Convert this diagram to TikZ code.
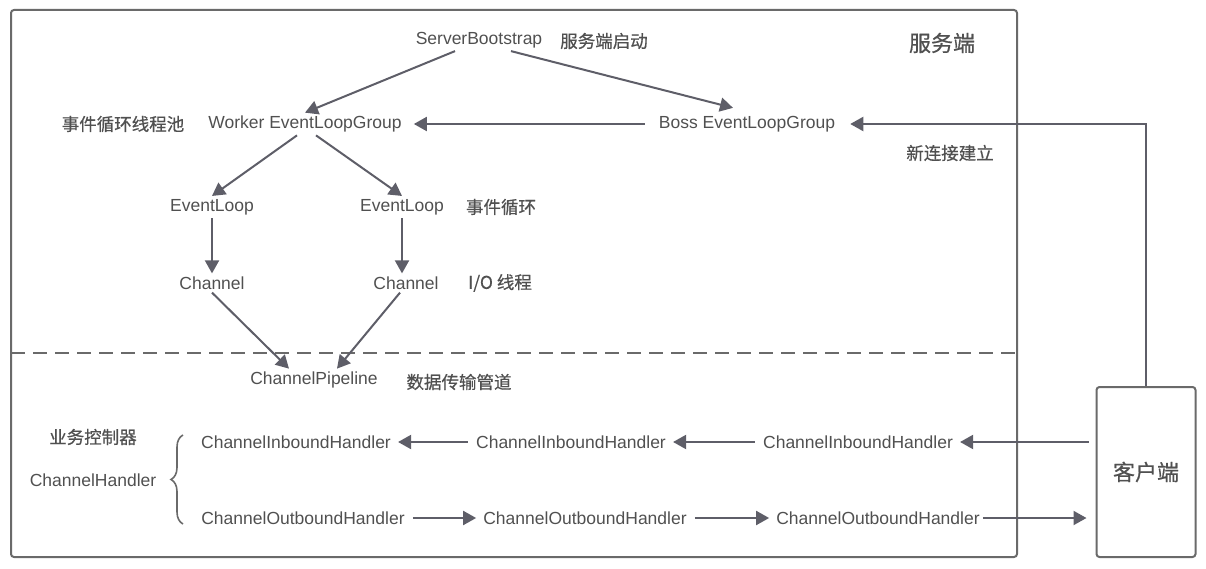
\documentclass[tikz,border=0pt]{standalone}
\usepackage{fontspec}
\setmainfont{Liberation Sans}
\newfontfamily\cjk{Noto Sans CJK SC}[FakeBold=0.6]
\usetikzlibrary{arrows.meta,decorations.pathreplacing}
\definecolor{inkText}{HTML}{505050}
\definecolor{inkLine}{HTML}{5E5E68}
\definecolor{frameLine}{HTML}{6A6A6A}
\tikzset{
  lbl/.style={inner sep=3pt, text=inkText, font=\fontsize{17.5}{20}\selectfont},
  cnlbl/.style={lbl, font=\cjk\fontsize{17.5}{20}\selectfont},
  titlelbl/.style={lbl, font=\cjk\fontsize{22}{26}\selectfont},
  arr/.style={-{Triangle[length=13pt,width=14pt]}, line width=2pt, draw=inkLine},
  handarr/.style={arr, shorten <=5pt, shorten >=4pt},
  frame/.style={draw=frameLine, line width=2pt, rounded corners=3pt},
  clientbox/.style={frame, minimum width=99pt, minimum height=170pt, inner sep=0pt,
    text=inkText, font=\cjk\fontsize{22}{26}\selectfont}
}
\begin{document}
\begin{tikzpicture}[x=1pt, y=-1pt]
  \useasboundingbox (0,0) rectangle (1206,569);
  % server side frame and pipeline divider
  \draw[frame] (11,10) rectangle (1017,557);
  \draw[frameLine, line width=2pt, dash pattern=on 14pt off 8pt] (11,353) -- (1015,353);
  \node[titlelbl] (server) at (942,43) {服务端};
  % bootstrap and groups
  \node[lbl] (sb) at (479,40) {ServerBootstrap};
  \node[cnlbl] (sbNote) at (604,41) {服务端启动};
  \node[lbl] (worker) at (305,124) {Worker EventLoopGroup};
  \node[cnlbl] (workerNote) at (123,124) {事件循环线程池};
  \node[lbl] (boss) at (747,124) {Boss EventLoopGroup};
  \node[cnlbl] (bossNote) at (950,153) {新连接建立};
  % loops and channels
  \node[lbl] (loopA) at (212,207) {EventLoop};
  \node[lbl] (loopB) at (402,207) {EventLoop};
  \node[cnlbl] (loopNote) at (501,207) {事件循环};
  \node[lbl] (chanA) at (212,283) {Channel};
  \node[lbl] (chanB) at (406,283) {Channel};
  \node[cnlbl] (chanNote) at (500,283) {I/O 线程};
  % pipeline and handlers
  \node[lbl] (pipe) at (314,380) {ChannelPipeline};
  \node[cnlbl] (pipeNote) at (459,382) {数据传输管道};
  \node[cnlbl] (handlerNote) at (93,437) {业务控制器};
  \node[lbl] (handler) at (93,480) {ChannelHandler};
  \node[lbl] (inA) at (296,442) {ChannelInboundHandler};
  \node[lbl] (inB) at (571,442) {ChannelInboundHandler};
  \node[lbl] (inC) at (858,442) {ChannelInboundHandler};
  \node[lbl] (outA) at (303,518) {ChannelOutboundHandler};
  \node[lbl] (outB) at (585,518) {ChannelOutboundHandler};
  \node[lbl] (outC) at (878,518) {ChannelOutboundHandler};
  \draw[frameLine, line width=1.6pt, decorate, decoration={brace, amplitude=12pt}]
    (183,524) -- (183,435);
  % client
  \node[clientbox] (client) at (1146,472) {客户端};

  \draw[arr] ([xshift=-24pt]sb.south) -- (worker.north);
  \draw[arr] ([xshift=32pt]sb.south) -- ([xshift=-14pt,yshift=5pt]boss.north);
  \draw[arr, shorten <=11pt, shorten >=9pt] (boss.west) -- (worker.east);
  \draw[arr, shorten >=12pt] (client.north) |- (boss.east);
  \draw[arr] ([xshift=-8pt]worker.south) -- (loopA.north);
  \draw[arr] ([xshift=11pt]worker.south) -- (loopB.north);
  \draw[arr] (loopA) -- (chanA);
  \draw[arr] (loopB.south) -- (loopB.south |- chanB.north);
  \draw[arr] (chanA.south) -- ([xshift=-25pt]pipe.north);
  \draw[arr] ([xshift=-6pt]chanB.south) -- ([xshift=23pt]pipe.north);
  % inbound: client to handlers
  \draw[handarr, shorten <=7pt] (client.west |- inC.east) -- (inC.east);
  \draw[handarr] (inC) -- (inB);
  \draw[handarr] (inB) -- (inA);
  % outbound: handlers to client
  \draw[handarr] (outA) -- (outB);
  \draw[handarr] (outB) -- (outC);
  \draw[handarr, shorten <=0pt, shorten >=9pt] (outC.east) -- (outC.east -| client.west);
\end{tikzpicture}
\end{document}
